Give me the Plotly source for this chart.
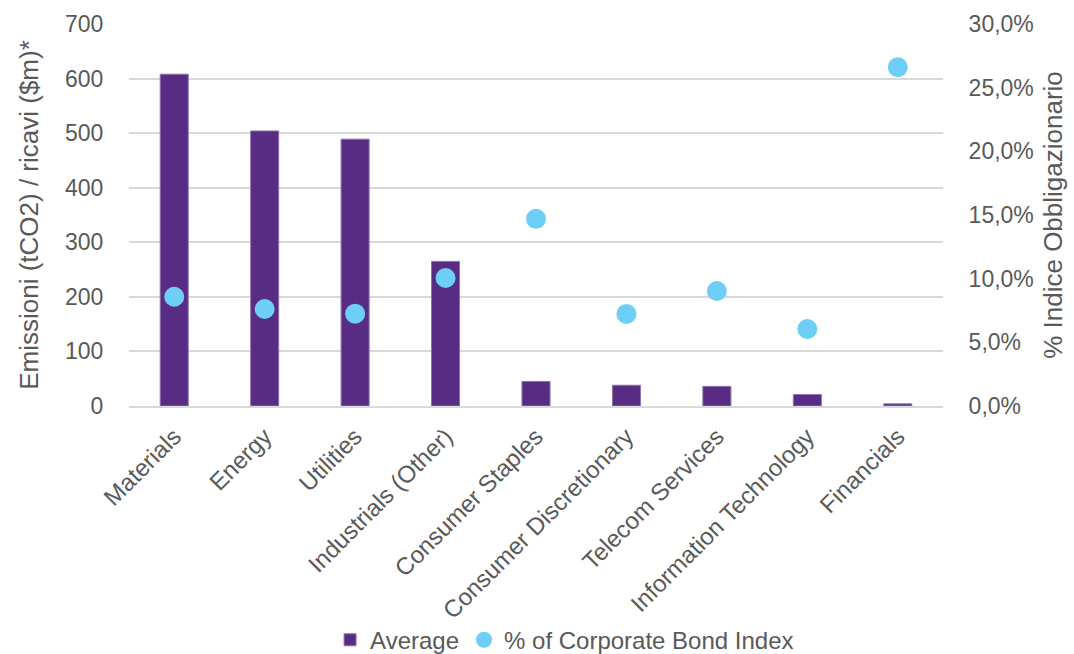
import plotly.graph_objects as go

categories = ["Materials", "Energy", "Utilities", "Industrials (Other)", "Consumer Staples",
              "Consumer Discretionary", "Telecom Services", "Information Technology", "Financials"]
average = [608, 504, 489, 265, 45, 38, 36, 21, 4]
pct_index = [0.0858, 0.0762, 0.0725, 0.1005, 0.147, 0.0723, 0.0903, 0.0605, 0.266]

fig = go.Figure()
fig.add_trace(go.Bar(x=categories, y=average, name="Average",
                     marker=dict(color="#582C83", line=dict(color="#8E72B0", width=1)),
                     width=0.31, yaxis="y"))
fig.add_trace(go.Scatter(x=categories, y=pct_index, name="% of Corporate Bond Index",
                         mode="markers", marker=dict(color="#6DCFF6", size=20),
                         yaxis="y2"))

font_family = "Liberation Sans, Arial, sans-serif"
fig.update_layout(
    width=1074, height=654,
    margin=dict(l=129, r=131, t=24, b=248, autoexpand=False),
    plot_bgcolor="white", paper_bgcolor="white",
    font=dict(family=font_family, size=23, color="#595959"),
    separators=",.",
    bargap=0.69,
    xaxis=dict(tickangle=-45, showgrid=False, linecolor="#D9D9D9", linewidth=2,
               range=[-0.5, 8.5],
               tickfont=dict(size=24), ticks="outside", ticklen=5, tickcolor="rgba(0,0,0,0)",
               automargin=False),
    yaxis=dict(range=[0, 700], dtick=100, showgrid=True, gridcolor="#D9D9D9", gridwidth=2,
               zeroline=False, automargin=False,
               title=dict(text="Emissioni (tCO2) / ricavi ($m)*", font=dict(size=26), standoff=18),
               ticks="outside", ticklen=20, tickcolor="rgba(0,0,0,0)", tickfont=dict(size=23)),
    yaxis2=dict(range=[0, 0.30], dtick=0.05, tickformat=".1%", overlaying="y", side="right",
                showgrid=False, zeroline=False, automargin=False,
                ticks="outside", ticklen=20, tickcolor="rgba(0,0,0,0)",
                title=dict(text="% Indice Obbligazionario", font=dict(size=26), standoff=10),
                tickfont=dict(size=23)),
    legend=dict(orientation="h", x=0.247, xanchor="left", y=-0.613, yanchor="middle",
                font=dict(size=24), itemsizing="trace", traceorder="normal"),
    showlegend=True,
)

fig.write_html("out.html")
